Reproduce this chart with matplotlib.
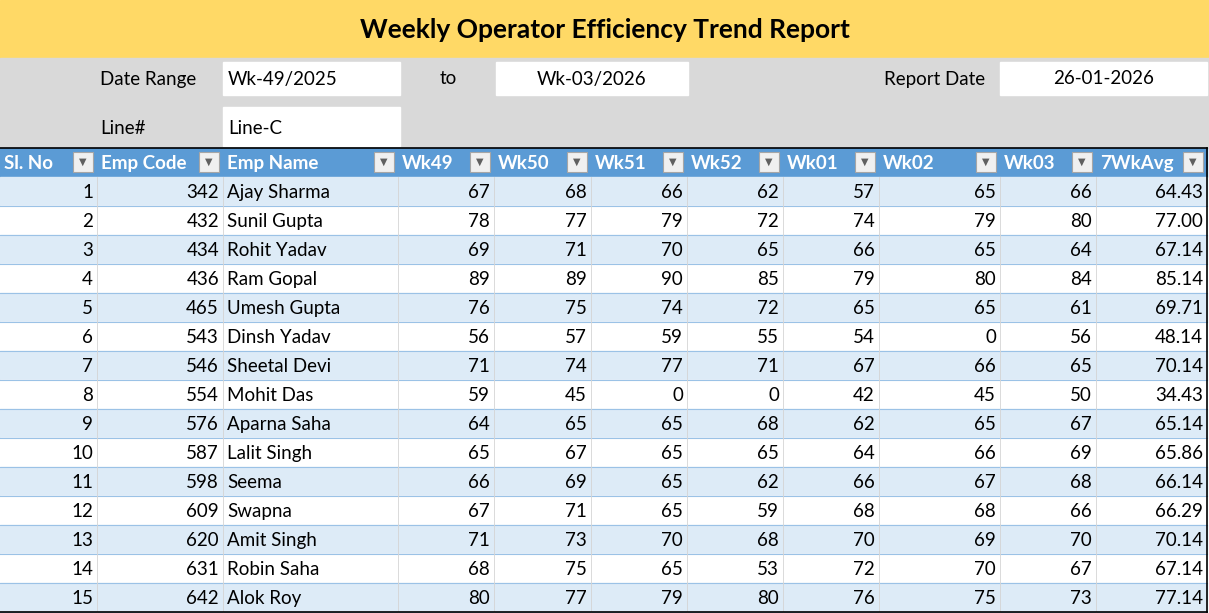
import matplotlib.pyplot as plt
from matplotlib.patches import Rectangle

plt.rcParams['font.family'] = ['Lato', 'DejaVu Sans']

title = "Weekly Operator Efficiency Trend Report"
headers = ["Sl. No", "Emp Code", "Emp Name", "Wk49", "Wk50", "Wk51", "Wk52", "Wk01", "Wk02", "Wk03", "7WkAvg"]
emp_codes = [342, 432, 434, 436, 465, 543, 546, 554, 576, 587, 598, 609, 620, 631, 642]
emp_names = ["Ajay Sharma", "Sunil Gupta", "Rohit Yadav", "Ram Gopal", "Umesh Gupta", "Dinsh Yadav",
             "Sheetal Devi", "Mohit Das", "Aparna Saha", "Lalit Singh", "Seema", "Swapna",
             "Amit Singh", "Robin Saha", "Alok Roy"]
wk49 = [67, 78, 69, 89, 76, 56, 71, 59, 64, 65, 66, 67, 71, 68, 80]
wk50 = [68, 77, 71, 89, 75, 57, 74, 45, 65, 67, 69, 71, 73, 75, 77]
wk51 = [66, 79, 70, 90, 74, 59, 77, 0, 65, 65, 65, 65, 70, 65, 79]
wk52 = [62, 72, 65, 85, 72, 55, 71, 0, 68, 65, 62, 59, 68, 53, 80]
wk01 = [57, 74, 66, 79, 65, 54, 67, 42, 62, 64, 66, 68, 70, 72, 76]
wk02 = [65, 79, 65, 80, 65, 0, 66, 45, 65, 66, 67, 68, 69, 70, 75]
wk03 = [66, 80, 64, 84, 61, 56, 65, 50, 67, 69, 68, 66, 70, 67, 73]
avg7 = [64.43, 77.00, 67.14, 85.14, 69.71, 48.14, 70.14, 34.43, 65.14, 65.86, 66.14, 66.29, 70.14, 67.14, 77.14]

W, H = 1209, 613
fig = plt.figure(figsize=(W / 100, H / 100), dpi=100)
ax = fig.add_axes([0, 0, 1, 1])
ax.set_xlim(0, W)
ax.set_ylim(H, 0)
ax.axis('off')

fs = 13.5
# title band
ax.add_patch(Rectangle((0, 0), W, 58, color='#FFD966'))
ax.text(605, 30, title, ha='center', va='center', fontsize=19, fontweight='bold')
# gray info area
ax.add_patch(Rectangle((0, 58), W, 90, color='#D9D9D9'))
for x0, y0, w, h in [(223, 62, 177, 33), (496, 62, 192, 33), (1000, 62, 207, 33), (223, 107, 177, 39)]:
    ax.add_patch(Rectangle((x0, y0), w, h, color='white'))
ax.text(100, 79, "Date Range", va='center', fontsize=fs)
ax.text(228, 79, "Wk-49/2025", va='center', fontsize=fs)
ax.text(440, 79, "to", va='center', fontsize=fs)
ax.text(537, 79, "Wk-03/2026", va='center', fontsize=fs)
ax.text(884, 79, "Report Date", va='center', fontsize=fs)
ax.text(1104, 79, "26-01-2026", ha='center', va='center', fontsize=fs)
ax.text(100, 128, "Line#", va='center', fontsize=fs)
ax.text(228, 128, "Line-C", va='center', fontsize=fs)

# table
cols = [0, 97, 223, 398, 494, 591, 687, 783, 879, 1000, 1096, 1207]
top, hh, rh = 148, 29, 29
ax.add_patch(Rectangle((0, top), cols[-1], hh, color='#5B9BD5'))
ax.plot([0, cols[-1]], [top, top], color='black', lw=1.2)
for i, name in enumerate(headers):
    ax.text(cols[i] + 4, top + hh / 2 + 1, name, va='center', fontsize=fs, fontweight='bold', color='white')
    bx = cols[i + 1] - 24
    ax.add_patch(Rectangle((bx, top + 4), 20, 20, facecolor='#F0F0F0', edgecolor='#A6A6A6', lw=0.8))
    ax.text(bx + 10, top + 14.5, "▼", ha='center', va='center', fontsize=7, color='#606060')

rows = list(zip(range(1, 16), emp_codes, emp_names, wk49, wk50, wk51, wk52, wk01, wk02, wk03, avg7))
for r, row in enumerate(rows):
    y0 = top + hh + r * rh
    fc = '#DDEBF7' if r % 2 == 0 else 'white'
    ax.add_patch(Rectangle((0, y0), cols[-1], rh, color=fc))
    ax.plot([0, cols[-1]], [y0 + rh, y0 + rh], color='#9BC2E6', lw=0.8)
    for c in range(1, len(cols) - 1):
        ax.plot([cols[c], cols[c]], [y0, y0 + rh], color='#D4D4D4', lw=0.6)
    for i, v in enumerate(row):
        yc = y0 + rh / 2 + 1
        if i == 2:
            ax.text(cols[i] + 4, yc, v, va='center', fontsize=fs)
        elif i == 10:
            ax.text(cols[i + 1] - 4, yc, f"{v:.2f}", ha='right', va='center', fontsize=fs)
        else:
            ax.text(cols[i + 1] - 4, yc, str(v), ha='right', va='center', fontsize=fs)

bottom = top + hh + 15 * rh
ax.plot([0, cols[-1]], [bottom, bottom], color='black', lw=1.2)
ax.plot([cols[-1], cols[-1]], [top, bottom], color='black', lw=1.2)

fig.savefig("out.png", dpi=100)
